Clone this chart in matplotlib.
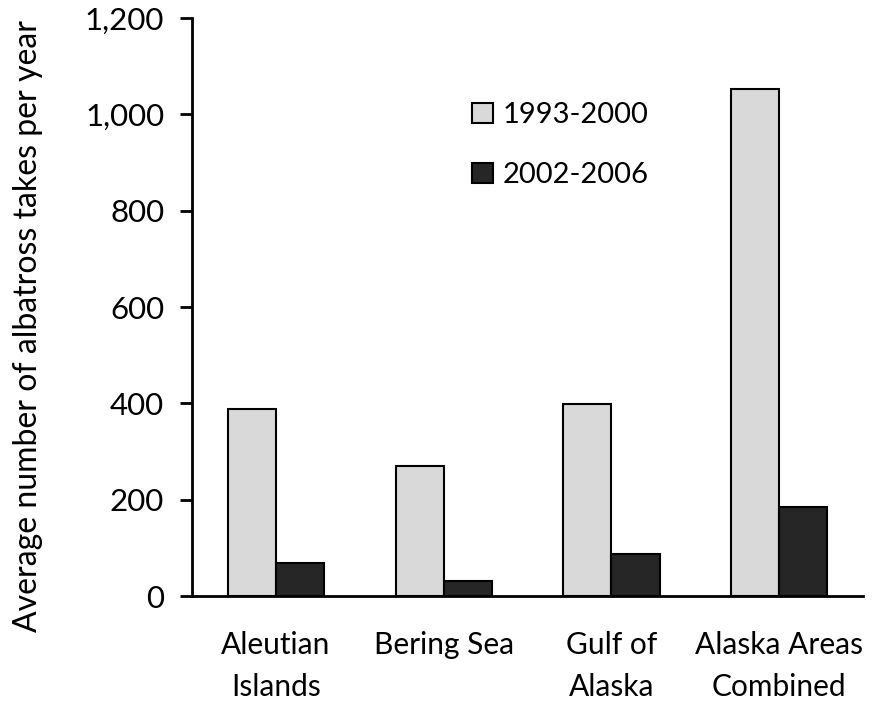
import numpy as np
import matplotlib.pyplot as plt

plt.rcParams['font.family'] = ['Lato', 'DejaVu Sans']

regions = ['Aleutian\nIslands', 'Bering Sea', 'Gulf of\nAlaska', 'Alaska Areas\nCombined']
takes_1993_2000 = [388, 270, 399, 1053]
takes_2002_2006 = [69, 32, 88, 185]
series_names = ['1993-2000', '2002-2006']

fig = plt.figure(figsize=(8.78, 7.04), dpi=100)
ax = fig.add_axes([0.2187, 0.1534, 0.7643, 0.821])

x = np.arange(len(regions))
w = 0.287
ax.bar(x - w / 2, takes_1993_2000, w, color='#d9d9d9', edgecolor='black', linewidth=1.5, label=series_names[0])
ax.bar(x + w / 2, takes_2002_2006, w, color='#262626', edgecolor='black', linewidth=1.5, label=series_names[1])

ax.set_xlim(-0.5, 3.5)
ax.set_ylim(0, 1200)
ax.set_yticks(range(0, 1201, 200))
ax.set_yticklabels(['{:,}'.format(v) for v in range(0, 1201, 200)])
ax.set_xticks(x)
ax.set_xticklabels(regions, linespacing=1.6)
ax.tick_params(axis='x', length=0, pad=25, labelsize=21.5)
ax.tick_params(axis='y', length=9, width=2, direction='out', pad=11, labelsize=22.5)
ax.spines['top'].set_visible(False)
ax.spines['right'].set_visible(False)
ax.spines['left'].set_linewidth(2)
ax.spines['bottom'].set_linewidth(2)
ax.set_ylabel('Average number of albatross takes per year', fontsize=23)
ax.yaxis.set_label_coords(-0.222, 0.467)

ax.legend(loc='upper left', bbox_to_anchor=(0.508, 0.892), bbox_transform=fig.transFigure,
          frameon=False, fontsize=21, handlelength=0.7, handleheight=0.7,
          handletextpad=0.35, labelspacing=1.16)

fig.savefig('out.png', dpi=100)
